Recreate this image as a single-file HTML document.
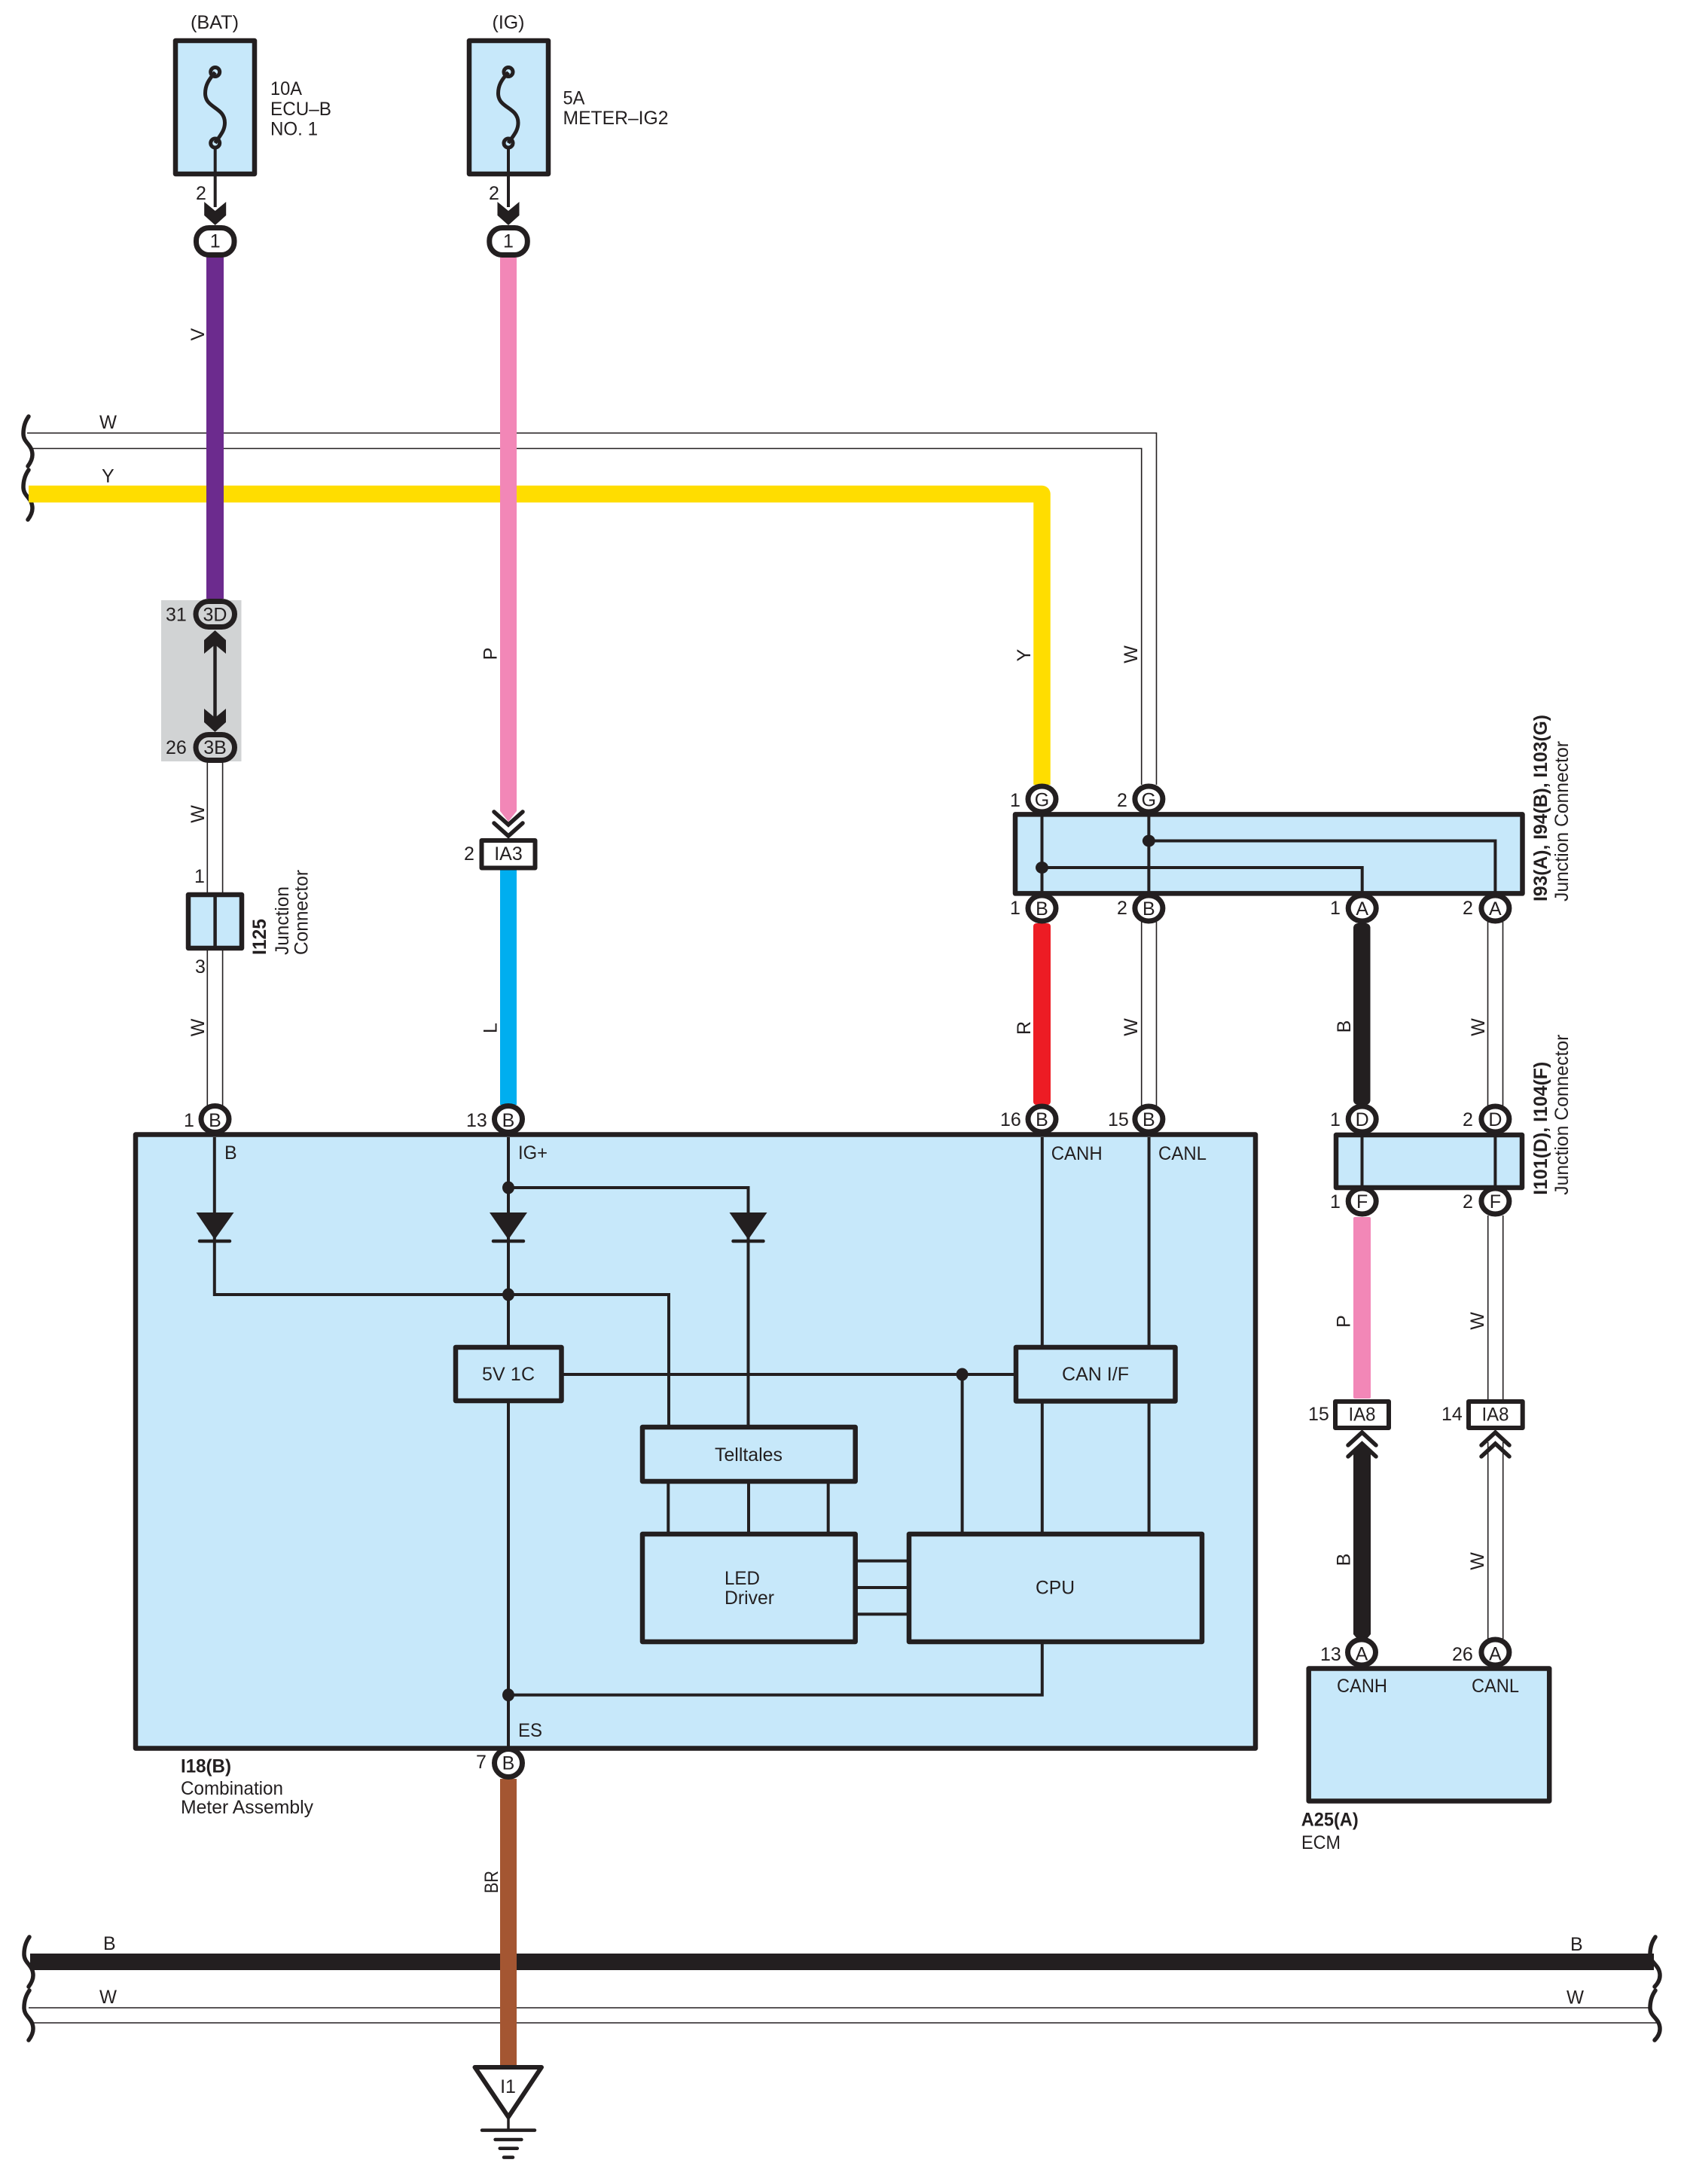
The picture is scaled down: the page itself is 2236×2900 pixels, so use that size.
<!DOCTYPE html>
<html><head><meta charset="utf-8"><title>Combination Meter Circuit</title>
<style>
html,body{margin:0;padding:0;background:#fff}
svg{display:block}
text{font-family:"Liberation Sans",sans-serif;font-size:25px;fill:#231f20}
.c{text-anchor:middle}
.b{font-weight:bold}
.box{fill:#c7e8fa;stroke:#231f20;stroke-width:6.5;stroke-linejoin:round}
.ln{fill:none;stroke:#231f20;stroke-width:4}
.th{fill:none;stroke:#231f20;stroke-width:1.6}
.sq{fill:none;stroke:#231f20;stroke-width:5.5;stroke-linecap:round}
.pin{fill:#fff;stroke:#231f20;stroke-width:7}
.wh{fill:#fff;stroke:#231f20;stroke-width:6;stroke-linejoin:round}
.k{fill:#231f20}
.ch{fill:none;stroke:#231f20;stroke-width:5.5;stroke-linecap:round;stroke-linejoin:miter}
</style></head>
<body>
<svg width="2236" height="2900" viewBox="0 0 2236 2900" xmlns="http://www.w3.org/2000/svg">
<rect width="2236" height="2900" fill="#fff"/>

<!-- squiggles -->
<path class="sq" d="M38,553 C33,560 31,568 31,576 C31,588 43,590 43,604 C43,610 40,615 37,619"/>
<path class="sq" d="M38,553 C33,560 31,568 31,576 C31,588 43,590 43,604 C43,610 40,615 37,619" transform="translate(0,71)"/>
<path class="sq" d="M38,553 C33,560 31,568 31,576 C31,588 43,590 43,604 C43,610 40,615 37,619" transform="translate(1,2019)"/>
<path class="sq" d="M38,553 C33,560 31,568 31,576 C31,588 43,590 43,604 C43,610 40,615 37,619" transform="translate(1,2090)"/>
<path class="sq" d="M38,553 C33,560 31,568 31,576 C31,588 44,590 44,604 C44,610 41,615 37,619" transform="translate(2160,2019)"/>
<path class="sq" d="M38,553 C33,560 31,568 31,576 C31,588 44,590 44,604 C44,610 41,615 37,619" transform="translate(2160,2090)"/>

<!-- horizontal buses -->
<path class="th" d="M36,575 H1535.5 V1042"/>
<path class="th" d="M40,595.5 H1515.7 V1042"/>
<path d="M38,656 H1383.5 V1042" fill="none" stroke="#ffdd00" stroke-width="22.5" stroke-linejoin="round"/>
<path d="M40,2605 H2196" stroke="#231f20" stroke-width="22" fill="none"/>
<path class="th" d="M38,2666 H2191"/>
<path class="th" d="M44,2686 H2203"/>

<!-- coloured wires -->
<rect x="274" y="340" width="23" height="455" fill="#6c2b8e"/>
<polygon points="664,340 686,340 686,1077 675,1091 664,1077" fill="#f287b7"/>
<rect x="664" y="1155" width="22" height="312" fill="#00aeef"/>
<rect x="1372" y="1226" width="23" height="241" rx="4" fill="#ed1c24"/>
<rect x="1797" y="1226" width="22.5" height="241" rx="6" fill="#231f20"/>
<rect x="1797" y="1616" width="23" height="241" rx="2" fill="#f287b7"/>
<polygon points="1797,1930 1808.5,1920 1820,1930 1820,2170 1815,2176 1802,2176 1797,2170" fill="#231f20"/>
<rect x="664" y="2362" width="22" height="382" fill="#a45632"/>

<!-- thin white pairs -->
<path class="th" d="M275.3,1012 V1468 M295.6,1012 V1468"/>
<path class="th" d="M1515.7,1224 V1468 M1535.5,1224 V1468"/>
<path class="th" d="M1975.5,1224 V1468 M1995.5,1224 V1468"/>
<path class="th" d="M1975.7,1614 V1858 M1995.7,1614 V1858"/>
<path class="th" d="M1975.7,1915 V2176 M1995.7,1915 V2176"/>

<!-- fuses -->
<rect class="box" x="233" y="54" width="105" height="177"/>
<rect class="box" x="623" y="54" width="105" height="177"/>
<g fill="none" stroke="#231f20" stroke-width="5">
<path d="M285.7,96 C277,106 272.5,113 272.5,124 C272.5,144 298.5,142 298.5,163 C298.5,174 292,180 285.7,190"/>
<path d="M675,96 C666,106 661.5,113 661.5,124 C661.5,144 688,142 688,163 C688,174 681.5,180 675,190"/>
<circle cx="285.7" cy="95.5" r="6"/><circle cx="285.7" cy="190" r="6"/>
<circle cx="675" cy="95.5" r="6"/><circle cx="675" cy="190" r="6"/>
<path d="M285.7,196 V275 M675,196 V275" stroke-width="4"/>
</g>
<polygon class="k" points="271.2,268 285.7,280 300.2,268 300.2,286 285.7,299 271.2,286"/>
<polygon class="k" points="660.5,268 675,280 689.5,268 689.5,286 675,299 660.5,286"/>
<rect x="260.5" y="302.5" width="50.5" height="36" rx="17" class="pin"/>
<rect x="649.8" y="302.5" width="50.5" height="36" rx="17" class="pin"/>

<!-- inline connector grey -->
<rect x="214" y="797" width="106.5" height="214" fill="#d1d3d4"/>
<path d="M285.5,850 V960" stroke="#231f20" stroke-width="4.5"/>
<polygon class="k" points="271,868 285.5,856 300,868 300,850 285.5,837 271,850"/>
<polygon class="k" points="271,941 285.5,953 300,941 300,959 285.5,972 271,959"/>
<rect x="260" y="798.5" width="51.5" height="34" rx="17" fill="#d1d3d4" stroke="#231f20" stroke-width="7"/>
<rect x="260" y="975.5" width="51.5" height="34" rx="17" fill="#d1d3d4" stroke="#231f20" stroke-width="7"/>

<!-- I125 -->
<rect class="box" x="250" y="1188" width="71" height="71" stroke-width="5.5"/>
<path d="M285.6,1188 V1259" stroke="#231f20" stroke-width="4.5"/>

<!-- IA3 -->
<polyline class="ch" points="656,1078 675,1095 694,1078"/>
<polyline class="ch" points="656,1093 675,1110 694,1093"/>
<rect class="wh" x="639.5" y="1116" width="71" height="36.5"/>

<!-- Main box -->
<rect class="box" x="180" y="1506.5" width="1487" height="815"/>
<g class="ln">
<path class="ln" d="M284.8,1510 V1719 H888 V1892"/>
<path class="ln" d="M675,1510 V1786"/>
<path class="ln" d="M675,1577 H993.5 V1892"/>
<path class="ln" d="M675,1863 V2320"/>
<path class="ln" d="M748,1825 H1346"/>
<path class="ln" d="M1277.6,1825 V2034"/>
<path class="ln" d="M1383.8,1510 V1786 M1383.8,1863 V2034"/>
<path class="ln" d="M1525.6,1510 V1786 M1525.6,1863 V2034"/>
<path class="ln" d="M887.3,1970 V2034 M994,1970 V2034 M1099.7,1970 V2034"/>
<path class="ln" d="M1138,2072.6 H1204 M1138,2143.4 H1204"/>
<path class="ln" d="M1138,2108 H1204" stroke-width="5"/>
<path class="ln" d="M1383.8,2183 V2250.6 H675"/>
</g>
<!-- diodes -->
<polygon class="k" points="260.5,1610 310.5,1610 285,1646"/>
<polygon class="k" points="650,1610 700,1610 675,1646"/>
<polygon class="k" points="968.5,1610 1018.5,1610 993.5,1646"/>
<path d="M265,1648 H305 M655,1648 H695 M973.5,1648 H1013.5" stroke="#231f20" stroke-width="4.5" stroke-linecap="round"/>
<!-- dots -->
<ellipse class="k" cx="675" cy="1577" rx="8" ry="8.5"/>
<ellipse class="k" cx="675" cy="1719" rx="8" ry="8.5"/>
<ellipse class="k" cx="1277.6" cy="1825" rx="8" ry="8.5"/>
<ellipse class="k" cx="675" cy="2250.6" rx="8" ry="8.5"/>
<!-- inner boxes -->
<rect class="box" x="605" y="1789" width="140.5" height="71" stroke-width="6"/>
<rect class="box" x="1349" y="1789" width="211.5" height="71.5" stroke-width="6"/>
<rect class="box" x="853" y="1895" width="282.7" height="72" stroke-width="6"/>
<rect class="box" x="853" y="2037" width="282.7" height="143" stroke-width="6"/>
<rect class="box" x="1207" y="2037" width="389" height="143" stroke-width="6"/>

<!-- junction connector top -->
<rect class="box" x="1348" y="1081.4" width="673.5" height="105" stroke-width="6.2"/>
<path class="ln" d="M1383.5,1082 V1186 M1525.4,1082 V1186"/>
<path class="ln" d="M1383.5,1152 H1808.7 V1186"/>
<path class="ln" d="M1525.4,1116.5 H1985.4 V1186"/>
<ellipse class="k" cx="1383.5" cy="1152" rx="8.5" ry="8"/>
<ellipse class="k" cx="1525.4" cy="1116.5" rx="8.5" ry="8"/>

<!-- junction connector mid -->
<rect class="box" x="1774" y="1507" width="247" height="70" stroke-width="6.5"/>
<path class="ln" d="M1808.5,1507 V1577 M1985.4,1507 V1577" stroke-width="4.5"/>

<!-- IA8 -->
<rect class="wh" x="1773" y="1861" width="71" height="35"/>
<rect class="wh" x="1950" y="1861" width="71.7" height="35"/>
<polyline class="ch" points="1790,1919 1808.5,1902 1827,1919"/>
<polyline class="ch" points="1790,1934 1808.5,1917 1827,1934"/>
<polyline class="ch" points="1967,1919 1985.5,1902 2004,1919"/>
<polyline class="ch" points="1967,1934 1985.5,1917 2004,1934"/>

<!-- ECM -->
<rect class="box" x="1737.7" y="2215.5" width="319.5" height="176"/>

<!-- pins -->
<g class="pin">
<ellipse class="pin" cx="285.5" cy="1486" rx="18.5" ry="17.5"/>
<ellipse class="pin" cx="675" cy="1486" rx="18.5" ry="17.5"/>
<ellipse class="pin" cx="675" cy="2341" rx="18.5" ry="18.5"/>
<ellipse class="pin" cx="1383.5" cy="1061" rx="18.5" ry="17"/>
<ellipse class="pin" cx="1525.4" cy="1061" rx="18.5" ry="17"/>
<ellipse class="pin" cx="1383.5" cy="1206" rx="18.5" ry="17"/>
<ellipse class="pin" cx="1525.4" cy="1206" rx="18.5" ry="17"/>
<ellipse class="pin" cx="1808.7" cy="1206" rx="18.5" ry="17"/>
<ellipse class="pin" cx="1985.4" cy="1206" rx="18.5" ry="17"/>
<ellipse class="pin" cx="1383.5" cy="1486" rx="18.5" ry="17"/>
<ellipse class="pin" cx="1525.4" cy="1486" rx="18.5" ry="17"/>
<ellipse class="pin" cx="1808.7" cy="1486" rx="18.5" ry="17"/>
<ellipse class="pin" cx="1985.4" cy="1486" rx="18.5" ry="17"/>
<ellipse class="pin" cx="1808.7" cy="1595" rx="18.5" ry="17"/>
<ellipse class="pin" cx="1985.4" cy="1595" rx="18.5" ry="17"/>
<ellipse class="pin" cx="1808" cy="2194" rx="18.5" ry="17"/>
<ellipse class="pin" cx="1985.4" cy="2194" rx="18.5" ry="17"/>
</g>

<!-- ground -->
<polygon points="630.5,2745 719,2745 675,2811" fill="#fff" stroke="#231f20" stroke-width="6" stroke-linejoin="round"/>
<path d="M675,2811 V2829" stroke="#231f20" stroke-width="3.5"/>
<path d="M640,2828.6 H710 M657.6,2841 H692.4 M663.7,2852.7 H686.8 M669,2864.6 H681" stroke="#231f20" stroke-width="4.5" stroke-linecap="round"/>

<!-- top labels -->
<text class="c" x="285" y="38" textLength="64" lengthAdjust="spacingAndGlyphs">(BAT)</text>
<text class="c" x="675" y="38" textLength="43" lengthAdjust="spacingAndGlyphs">(IG)</text>
<text x="359" y="126" textLength="42" lengthAdjust="spacingAndGlyphs">10A</text>
<text x="359" y="153" textLength="81" lengthAdjust="spacingAndGlyphs">ECU–B</text>
<text x="359" y="179.5" textLength="63" lengthAdjust="spacingAndGlyphs">NO. 1</text>
<text x="747.5" y="138.6" textLength="29" lengthAdjust="spacingAndGlyphs">5A</text>
<text x="747.5" y="165" textLength="140" lengthAdjust="spacingAndGlyphs">METER–IG2</text>
<text x="260" y="265">2</text>
<text x="649" y="265">2</text>
<text class="c" x="285.7" y="328.5">1</text>
<text class="c" x="675" y="328.5">1</text>

<text x="132" y="569" textLength="23" lengthAdjust="spacingAndGlyphs">W</text>
<text x="135" y="640.5">Y</text>
<text transform="translate(271,444) rotate(-90)" class="c">V</text>
<text transform="translate(659.5,868) rotate(-90)" class="c">P</text>
<text transform="translate(1368,870) rotate(-90)" class="c">Y</text>
<text transform="translate(1510,869) rotate(-90)" class="c">W</text>

<text class="c" x="285.5" y="824.5">3D</text>
<text class="c" x="285.5" y="1001">3B</text>
<text x="220" y="824.5">31</text>
<text x="220" y="1001">26</text>
<text transform="translate(271,1081) rotate(-90)" class="c">W</text>
<text transform="translate(271,1364.5) rotate(-90)" class="c">W</text>
<text x="258" y="1172">1</text>
<text x="259" y="1292">3</text>
<text class="b" transform="translate(353,1268) rotate(-90)" textLength="48" lengthAdjust="spacingAndGlyphs">I125</text>
<text transform="translate(383,1268) rotate(-90)" textLength="91" lengthAdjust="spacingAndGlyphs">Junction</text>
<text transform="translate(408.5,1268) rotate(-90)" textLength="113" lengthAdjust="spacingAndGlyphs">Connector</text>
<text class="c" x="675" y="1142">IA3</text>
<text x="616" y="1142">2</text>
<text transform="translate(659.5,1365) rotate(-90)" class="c">L</text>

<text class="c" x="285.5" y="1496">B</text>
<text class="c" x="675" y="1496">B</text>
<text x="244" y="1496">1</text>
<text x="619" y="1496">13</text>
<text class="c" x="1383.5" y="1215">B</text>
<text class="c" x="1525.4" y="1215">B</text>
<text class="c" x="1808.7" y="1215">A</text>
<text class="c" x="1985.4" y="1215">A</text>
<text class="c" x="1383.5" y="1070.5">G</text>
<text class="c" x="1525.4" y="1070.5">G</text>
<text x="1341" y="1071">1</text>
<text x="1483" y="1071">2</text>
<text x="1341" y="1214">1</text>
<text x="1483" y="1214">2</text>
<text x="1766" y="1214">1</text>
<text x="1942" y="1214">2</text>
<text class="b" transform="translate(2054,1197) rotate(-90)" textLength="248" lengthAdjust="spacingAndGlyphs">I93(A), I94(B), I103(G)</text>
<text transform="translate(2082,1197) rotate(-90)" textLength="213" lengthAdjust="spacingAndGlyphs">Junction Connector</text>
<text class="b" transform="translate(2054,1586.7) rotate(-90)" textLength="177" lengthAdjust="spacingAndGlyphs">I101(D), I104(F)</text>
<text transform="translate(2082,1586.7) rotate(-90)" textLength="213" lengthAdjust="spacingAndGlyphs">Junction Connector</text>

<text transform="translate(1368,1365) rotate(-90)" class="c">R</text>
<text transform="translate(1510,1364) rotate(-90)" class="c">W</text>
<text transform="translate(1793,1363) rotate(-90)" class="c">B</text>
<text transform="translate(1971,1364) rotate(-90)" class="c">W</text>

<text class="c" x="1383.5" y="1495">B</text>
<text class="c" x="1525.4" y="1495">B</text>
<text class="c" x="1808.7" y="1495">D</text>
<text class="c" x="1985.4" y="1495">D</text>
<text class="c" x="1808.7" y="1604">F</text>
<text class="c" x="1985.4" y="1604">F</text>
<text x="1328" y="1495">16</text>
<text x="1471" y="1495">15</text>
<text x="1766" y="1495">1</text>
<text x="1942" y="1495">2</text>
<text x="1766" y="1604">1</text>
<text x="1942" y="1604">2</text>

<text x="298" y="1539">B</text>
<text x="688" y="1539" textLength="39" lengthAdjust="spacingAndGlyphs">IG+</text>
<text x="1395.7" y="1540" textLength="68" lengthAdjust="spacingAndGlyphs">CANH</text>
<text x="1538" y="1540" textLength="64" lengthAdjust="spacingAndGlyphs">CANL</text>
<text class="c" x="675" y="1833" textLength="70" lengthAdjust="spacing">5V 1C</text>
<text class="c" x="1454.5" y="1833" textLength="89" lengthAdjust="spacingAndGlyphs">CAN I/F</text>
<text class="c" x="994" y="1940" textLength="90" lengthAdjust="spacingAndGlyphs">Telltales</text>
<text x="962" y="2104" textLength="47" lengthAdjust="spacingAndGlyphs">LED</text>
<text x="962" y="2130" textLength="66" lengthAdjust="spacingAndGlyphs">Driver</text>
<text class="c" x="1401" y="2116.6" textLength="52" lengthAdjust="spacingAndGlyphs">CPU</text>
<text x="688" y="2306" textLength="32" lengthAdjust="spacingAndGlyphs">ES</text>
<text class="c" x="675" y="2349.5">B</text>
<text x="632" y="2348">7</text>
<text class="b" x="240" y="2353.5" textLength="67" lengthAdjust="spacingAndGlyphs">I18(B)</text>
<text x="240" y="2383" textLength="136" lengthAdjust="spacingAndGlyphs">Combination</text>
<text x="240" y="2408" textLength="176" lengthAdjust="spacingAndGlyphs">Meter Assembly</text>
<text transform="translate(661,2514) rotate(-90)" textLength="30" lengthAdjust="spacingAndGlyphs">BR</text>
<text x="137" y="2589">B</text>
<text x="132" y="2660" textLength="23" lengthAdjust="spacingAndGlyphs">W</text>
<text x="2085" y="2590">B</text>
<text x="2080" y="2660.5" textLength="23" lengthAdjust="spacingAndGlyphs">W</text>
<text class="c" x="674.5" y="2779">I1</text>

<text transform="translate(1792.7,1754.5) rotate(-90)" class="c">P</text>
<text transform="translate(1970,1754) rotate(-90)" class="c">W</text>
<text transform="translate(1792.7,2071) rotate(-90)" class="c">B</text>
<text transform="translate(1970,2073) rotate(-90)" class="c">W</text>
<text class="c" x="1808.5" y="1886.5" textLength="36" lengthAdjust="spacingAndGlyphs">IA8</text>
<text class="c" x="1985.5" y="1886.5" textLength="36" lengthAdjust="spacingAndGlyphs">IA8</text>
<text x="1737" y="1886">15</text>
<text x="1914" y="1886">14</text>
<text class="c" x="1808" y="2204.5">A</text>
<text class="c" x="1985.4" y="2204.5">A</text>
<text x="1753" y="2205">13</text>
<text x="1928" y="2205">26</text>
<text x="1775" y="2247" textLength="67" lengthAdjust="spacingAndGlyphs">CANH</text>
<text x="1954" y="2247" textLength="63" lengthAdjust="spacingAndGlyphs">CANL</text>
<text class="b" x="1727.7" y="2424.6" textLength="76" lengthAdjust="spacingAndGlyphs">A25(A)</text>
<text x="1728" y="2455" textLength="52" lengthAdjust="spacingAndGlyphs">ECM</text>
</svg>
</body></html>
